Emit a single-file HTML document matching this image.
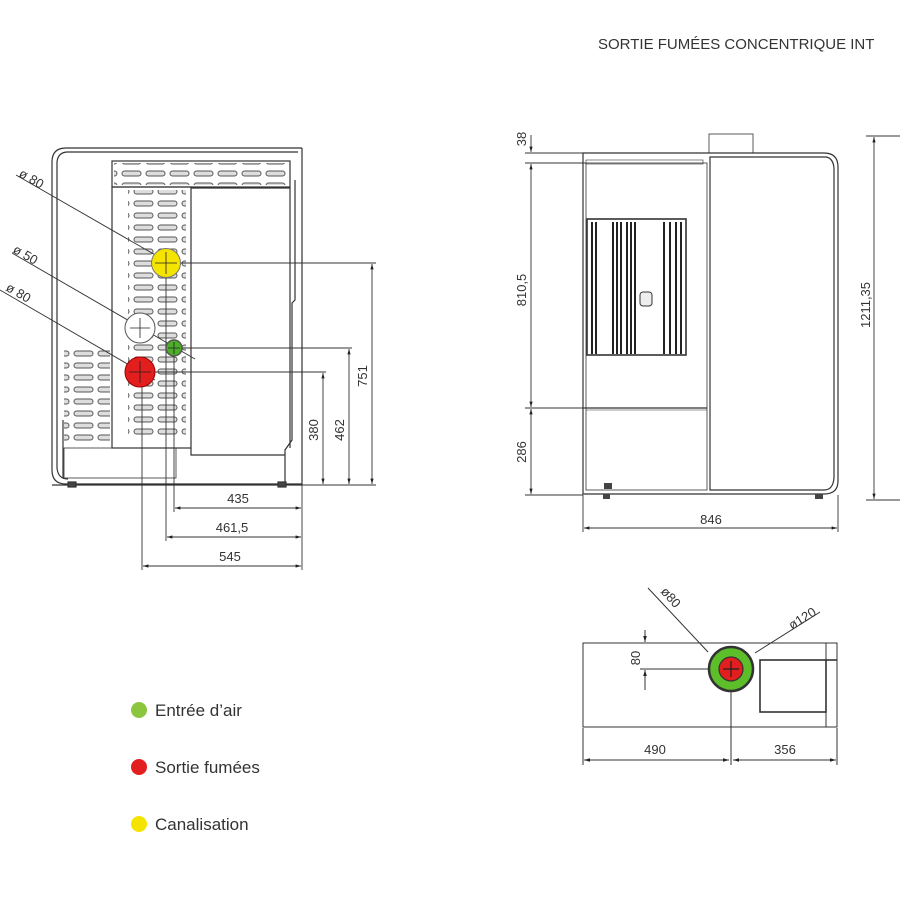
<!DOCTYPE html>
<html><head><meta charset="utf-8"><style>
html,body{margin:0;padding:0;background:#fff}
svg{display:block}
text{font-family:"Liberation Sans",sans-serif;fill:#333}
</style></head><body>
<svg width="900" height="900" viewBox="0 0 900 900" xmlns="http://www.w3.org/2000/svg">
<defs>
<marker id="a" viewBox="0 0 10 10" refX="10" refY="5" markerWidth="6" markerHeight="6" orient="auto-start-reverse"><path d="M0,2 L10,5 L0,8z" fill="#222"/></marker>
<pattern id="lv" width="24" height="12" patternUnits="userSpaceOnUse"><rect x="2" y="3" width="19" height="5" rx="2.5" fill="#ddd" stroke="#555" stroke-width="1"/></pattern>
<pattern id="lv2" width="24" height="12" patternUnits="userSpaceOnUse" x="12" y="6"><rect x="2" y="3" width="19" height="5" rx="2.5" fill="#ddd" stroke="#555" stroke-width="1"/></pattern>
</defs>

<text x="598" y="49" font-size="15">SORTIE  FUMÉES CONCENTRIQUE INT</text>

<!-- LEFT REAR VIEW -->
<g fill="none" stroke="#333" stroke-width="1.2">
<path d="M302,148 H66 Q52,148 52,162 V470 Q52,484 66,484 H302"/>
<path d="M298,152 H68 Q58,152 57,162 V468 Q58,479 68,479"/>
<line x1="302" y1="148" x2="302" y2="485"/>
<line x1="52" y1="485" x2="302" y2="485"/>
<rect x="112" y="161" width="178" height="26"/>
<rect x="112" y="187" width="79" height="261"/>
<path d="M191,188 H290 V448 M295,180 V300 L292,303 V440 L285,450 V485"/>
<path d="M191,448 V455 H285"/>
<rect x="64" y="448" width="112" height="30" stroke-width="0.8"/>
<line x1="63" y1="420" x2="63" y2="478"/>
<rect x="68" y="482" width="8" height="5" fill="#444"/>
<rect x="278" y="482" width="8" height="5" fill="#444"/>
</g>
<rect x="114" y="163" width="174" height="22" fill="url(#lv)"/>
<rect x="128" y="190" width="58" height="250" fill="url(#lv2)"/>
<rect x="64" y="345" width="46" height="98" fill="url(#lv)"/>

<!-- dims left -->
<g stroke="#333" stroke-width="0.9" fill="none">
<line x1="166" y1="263" x2="376" y2="263"/>
<line x1="173" y1="348" x2="352" y2="348"/>
<line x1="140" y1="372" x2="326" y2="372"/>
<line x1="302" y1="485" x2="376" y2="485"/>
<line x1="372" y1="264" x2="372" y2="484" marker-start="url(#a)" marker-end="url(#a)"/>
<line x1="349" y1="349" x2="349" y2="484" marker-start="url(#a)" marker-end="url(#a)"/>
<line x1="323" y1="373" x2="323" y2="484" marker-start="url(#a)" marker-end="url(#a)"/>
<line x1="174" y1="348" x2="174" y2="512"/>
<line x1="166" y1="263" x2="166" y2="541"/>
<line x1="142" y1="372" x2="142" y2="570"/>
<line x1="302" y1="485" x2="302" y2="570"/>
<line x1="175" y1="508" x2="301" y2="508" marker-start="url(#a)" marker-end="url(#a)"/>
<line x1="167" y1="537" x2="301" y2="537" marker-start="url(#a)" marker-end="url(#a)"/>
<line x1="143" y1="566" x2="301" y2="566" marker-start="url(#a)" marker-end="url(#a)"/>
<line x1="16" y1="175" x2="178" y2="268"/>
<line x1="12" y1="253" x2="195" y2="359"/>
<line x1="0" y1="290" x2="155" y2="380"/>
</g>
<circle cx="166" cy="263" r="14.5" fill="#f5e400" stroke="#777"/>
<circle cx="140" cy="328" r="15" fill="#fff" stroke="#555"/>
<circle cx="174" cy="348" r="8" fill="#4caf2a" stroke="#555" stroke-width="1.5"/>
<circle cx="140" cy="372" r="15" fill="#e31e1e" stroke="#900"/>
<g stroke="#222" stroke-width="0.8"><path d="M166,252V274M155,263H177M140,318V338M130,328H150M174,342V354M168,348H180M140,361V383M129,372H151"/></g>

<text font-size="13" transform="translate(18,176) rotate(30)">ø 80</text>
<text font-size="13" transform="translate(12,252) rotate(30)">ø 50</text>
<text font-size="13" transform="translate(5,290) rotate(30)">ø 80</text>
<text font-size="13" x="238" y="503" text-anchor="middle">435</text>
<text font-size="13" x="232" y="532" text-anchor="middle">461,5</text>
<text font-size="13" x="230" y="561" text-anchor="middle">545</text>
<text font-size="13" transform="translate(367,376) rotate(-90)" text-anchor="middle">751</text>
<text font-size="13" transform="translate(344,430) rotate(-90)" text-anchor="middle">462</text>
<text font-size="13" transform="translate(318,430) rotate(-90)" text-anchor="middle">380</text>

<!-- FRONT VIEW -->
<g fill="none" stroke="#333" stroke-width="1.2">
<rect x="709" y="134" width="44" height="19" stroke-width="0.8"/>
<path d="M583,153 H824 Q838,153 838,167 V481 Q838,494 824,494 H583 Z"/>
<path d="M710,157 H826 Q833,158 834,168 V478 Q833,490 824,490 H710 Z"/>
<rect x="586" y="163" width="121" height="327" stroke-width="0.8"/>
<line x1="583" y1="408" x2="707" y2="408"/>
<line x1="586" y1="410" x2="707" y2="410" stroke-width="0.6"/>
<rect x="587" y="219" width="99" height="136" stroke-width="1.6"/>
<rect x="586" y="160" width="117" height="4" stroke-width="0.6"/>
</g>
<g stroke="#222" stroke-width="2"><path d="M592,222V354M596,222V354M613,222V354M617,222V354M621,222V354M627,222V354M631,222V354M635,222V354M664,222V354M670,222V354M676,222V354M681,222V354"/></g>
<rect x="640" y="292" width="12" height="14" rx="3" fill="#eee" stroke="#333"/>
<rect x="604" y="483" width="8" height="6" fill="#444"/><rect x="815" y="494" width="8" height="5" fill="#444"/>
<rect x="603" y="494" width="7" height="5" fill="#444"/>
<g stroke="#333" stroke-width="0.9" fill="none">
<line x1="525" y1="153" x2="583" y2="153"/>
<line x1="525" y1="163" x2="586" y2="163"/>
<line x1="525" y1="408" x2="583" y2="408"/>
<line x1="525" y1="495" x2="583" y2="495"/>
<line x1="531" y1="135" x2="531" y2="152" marker-end="url(#a)"/>
<line x1="531" y1="164" x2="531" y2="407" marker-start="url(#a)" marker-end="url(#a)"/>
<line x1="531" y1="409" x2="531" y2="494" marker-start="url(#a)" marker-end="url(#a)"/>
<line x1="866" y1="136" x2="900" y2="136"/>
<line x1="866" y1="500" x2="900" y2="500"/>
<line x1="874" y1="137" x2="874" y2="499" marker-start="url(#a)" marker-end="url(#a)"/>
<line x1="583" y1="495" x2="583" y2="532"/>
<line x1="838" y1="495" x2="838" y2="532"/>
<line x1="584" y1="528" x2="837" y2="528" marker-start="url(#a)" marker-end="url(#a)"/>
</g>
<text font-size="13" transform="translate(526,139) rotate(-90)" text-anchor="middle">38</text>
<text font-size="13" transform="translate(526,290) rotate(-90)" text-anchor="middle">810,5</text>
<text font-size="13" transform="translate(526,452) rotate(-90)" text-anchor="middle">286</text>
<text font-size="13" transform="translate(870,305) rotate(-90)" text-anchor="middle">1211,35</text>
<text font-size="13" x="711" y="524" text-anchor="middle">846</text>

<!-- TOP VIEW -->
<g fill="none" stroke="#333" stroke-width="1">
<rect x="583" y="643" width="254" height="84"/>
<line x1="826" y1="643" x2="826" y2="727"/>
<rect x="760" y="660" width="66" height="52" stroke-width="1.6"/>
<line x1="826" y1="660" x2="837" y2="660" stroke-width="1.6"/>
<line x1="640" y1="669" x2="730" y2="669"/>
<line x1="645" y1="630" x2="645" y2="642" marker-end="url(#a)"/>
<line x1="645" y1="690" x2="645" y2="670" marker-end="url(#a)"/>
<line x1="648" y1="588" x2="708" y2="652"/>
<line x1="820" y1="612" x2="755" y2="653"/>
<line x1="583" y1="728" x2="583" y2="765"/>
<line x1="837" y1="728" x2="837" y2="765"/>
<line x1="731" y1="648" x2="731" y2="765"/>
<line x1="584" y1="760" x2="729" y2="760" marker-start="url(#a)" marker-end="url(#a)"/>
<line x1="733" y1="760" x2="836" y2="760" marker-start="url(#a)" marker-end="url(#a)"/>
</g>
<circle cx="731" cy="669" r="22" fill="#5cbf2a" stroke="#333" stroke-width="2.5"/>
<circle cx="731" cy="669" r="12" fill="#e31e1e" stroke="#333" stroke-width="1.2"/>
<path d="M731,661V677M723,669H739" stroke="#222" stroke-width="1.2"/>
<text font-size="13" transform="translate(660,592) rotate(48)">ø80</text>
<text font-size="13" transform="translate(792,630) rotate(-32)">ø120</text>
<text font-size="13" transform="translate(640,658) rotate(-90)" text-anchor="middle">80</text>
<text font-size="13" x="655" y="754" text-anchor="middle">490</text>
<text font-size="13" x="785" y="754" text-anchor="middle">356</text>

<!-- LEGEND -->
<circle cx="139" cy="710" r="8" fill="#8cc63f"/>
<circle cx="139" cy="767" r="8" fill="#e31e1e"/>
<circle cx="139" cy="824" r="8" fill="#f5e400"/>
<text x="155" y="716" font-size="17">Entrée d’air</text>
<text x="155" y="773" font-size="17">Sortie fumées</text>
<text x="155" y="830" font-size="17">Canalisation</text>
</svg>
</body></html>
